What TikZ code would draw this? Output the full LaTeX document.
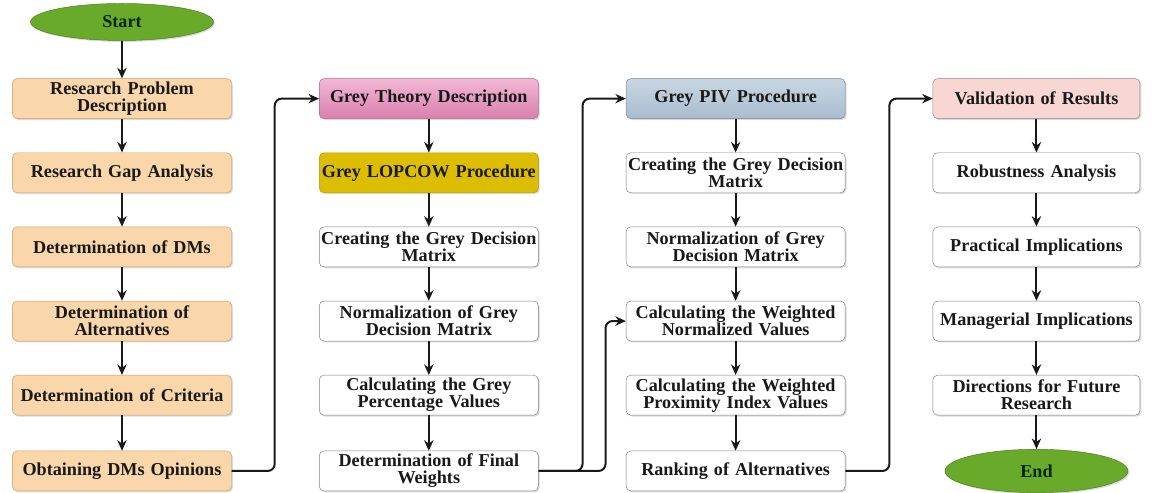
\documentclass[tikz,border=0pt]{standalone}
\usepackage{fontspec}
\setmainfont{Liberation Serif}
\usepackage{xcolor}
\usepackage{tikz}
\usetikzlibrary{matrix,shapes.geometric,arrows.meta,shadows}

\definecolor{termfill}{HTML}{6AAA2A}
\definecolor{termline}{HTML}{4A7D1A}
\definecolor{peach}{HTML}{FAD7AB}
\definecolor{peachline}{HTML}{C89A62}
\definecolor{pinktop}{HTML}{F2B8D4}
\definecolor{pinkbot}{HTML}{D97FAE}
\definecolor{gold}{HTML}{DDBD00}
\definecolor{pivtop}{HTML}{C8D6E2}
\definecolor{pivbot}{HTML}{A9BDCE}
\definecolor{valfill}{HTML}{F8D6D3}

\begin{document}
\begin{tikzpicture}[x=0.03cm,y=-0.03cm,
  box/.style={draw=black!50, rounded corners=4pt, text width=6.5cm, minimum height=1.2cm, align=center, inner xsep=1pt, inner ysep=1pt, fill=white, drop shadow={opacity=.3,shadow xshift=1.2pt,shadow yshift=-1.2pt}},
  nbox/.style={box, text width=6.14cm},
  orng/.style={box, fill=peach, draw=peachline},
  pinkbox/.style={box, top color=pinktop, bottom color=pinkbot, draw=pinkbot!80!black},
  goldbox/.style={box, fill=gold, draw=gold!80!black},
  pivbox/.style={box, top color=pivtop, bottom color=pivbot, draw=pivbot!70!black},
  valbox/.style={nbox, fill=valfill, draw=valfill!60!black},
  term/.style={ellipse, draw=termline, fill=termfill, inner sep=0pt, minimum width=5.49cm, text=black!85!green, drop shadow={opacity=.3,shadow xshift=1.2pt,shadow yshift=-1.2pt}},
  arr/.style={-{Stealth[length=9pt,width=8pt]}, line width=1.7pt, black!90}]
\useasboundingbox (0,0) rectangle (1154,492);

\matrix[matrix of nodes, anchor=north west, inner sep=0pt,
  nodes={anchor=center, font=\bfseries\fontsize{15.5}{14.5}\selectfont, text=black!90},
  column sep=2.62cm, row sep=1.01cm] (F) at (12,3) {
 |[term, minimum height=1.11cm]| Start & & & \\[0.12cm]
 |[orng]| {Research Problem\\Description} & |[pinkbox]| Grey Theory Description & |[pivbox]| Grey PIV Procedure & |[valbox]| Validation of Results \\
 |[orng]| Research Gap Analysis & |[goldbox]| Grey LOPCOW Procedure & |[box]| {Creating the Grey Decision\\Matrix} & |[nbox]| Robustness Analysis \\
 |[orng]| Determination of DMs & |[box]| {Creating the Grey Decision\\Matrix} & |[box]| {Normalization of Grey\\Decision Matrix} & |[nbox]| Practical Implications \\
 |[orng]| {Determination of\\Alternatives} & |[box]| {Normalization of Grey\\Decision Matrix} & |[box]| {Calculating the Weighted\\Normalized Values} & |[nbox]| Managerial Implications \\
 |[orng]| Determination of Criteria & |[box]| {Calculating the Grey\\Percentage Values} & |[box]| {Calculating the Weighted\\Proximity Index Values} & |[nbox]| {Directions for Future\\Research} \\
 |[orng]| Obtaining DMs Opinions & |[box]| {Determination of Final\\Weights} & |[box]| Ranking of Alternatives & |[term, minimum height=1.3cm]| End \\
};

% first column
\draw[arr] (F-1-1) -- (F-2-1); \draw[arr] (F-2-1) -- (F-3-1); \draw[arr] (F-3-1) -- (F-4-1);
\draw[arr] (F-4-1) -- (F-5-1); \draw[arr] (F-5-1) -- (F-6-1); \draw[arr] (F-6-1) -- (F-7-1);
\draw[arr, rounded corners=6pt] (F-7-1.east) -- ++(43,0) |- (F-2-2.west);

% grey LOPCOW
\draw[arr] (F-2-2) -- (F-3-2); \draw[arr] (F-3-2) -- (F-4-2); \draw[arr] (F-4-2) -- (F-5-2);
\draw[arr] (F-5-2) -- (F-6-2); \draw[arr] (F-6-2) -- (F-7-2);
\draw[arr, rounded corners=6pt] (F-7-2.east) -- ++(44,0) |- (F-2-3.west);
\draw[arr, rounded corners=6pt] (F-7-2.east) -- ++(67,0) |- (F-5-3.west);

% grey PIV
\draw[arr] (F-2-3) -- (F-3-3); \draw[arr] (F-3-3) -- (F-4-3); \draw[arr] (F-4-3) -- (F-5-3);
\draw[arr] (F-5-3) -- (F-6-3); \draw[arr] (F-6-3) -- (F-7-3);
\draw[arr, rounded corners=6pt] (F-7-3.east) -- ++(44,0) |- (F-2-4.west);

% validation
\draw[arr] (F-2-4) -- (F-3-4); \draw[arr] (F-3-4) -- (F-4-4); \draw[arr] (F-4-4) -- (F-5-4);
\draw[arr] (F-5-4) -- (F-6-4); \draw[arr] (F-6-4) -- (F-7-4);
\end{tikzpicture}
\end{document}
